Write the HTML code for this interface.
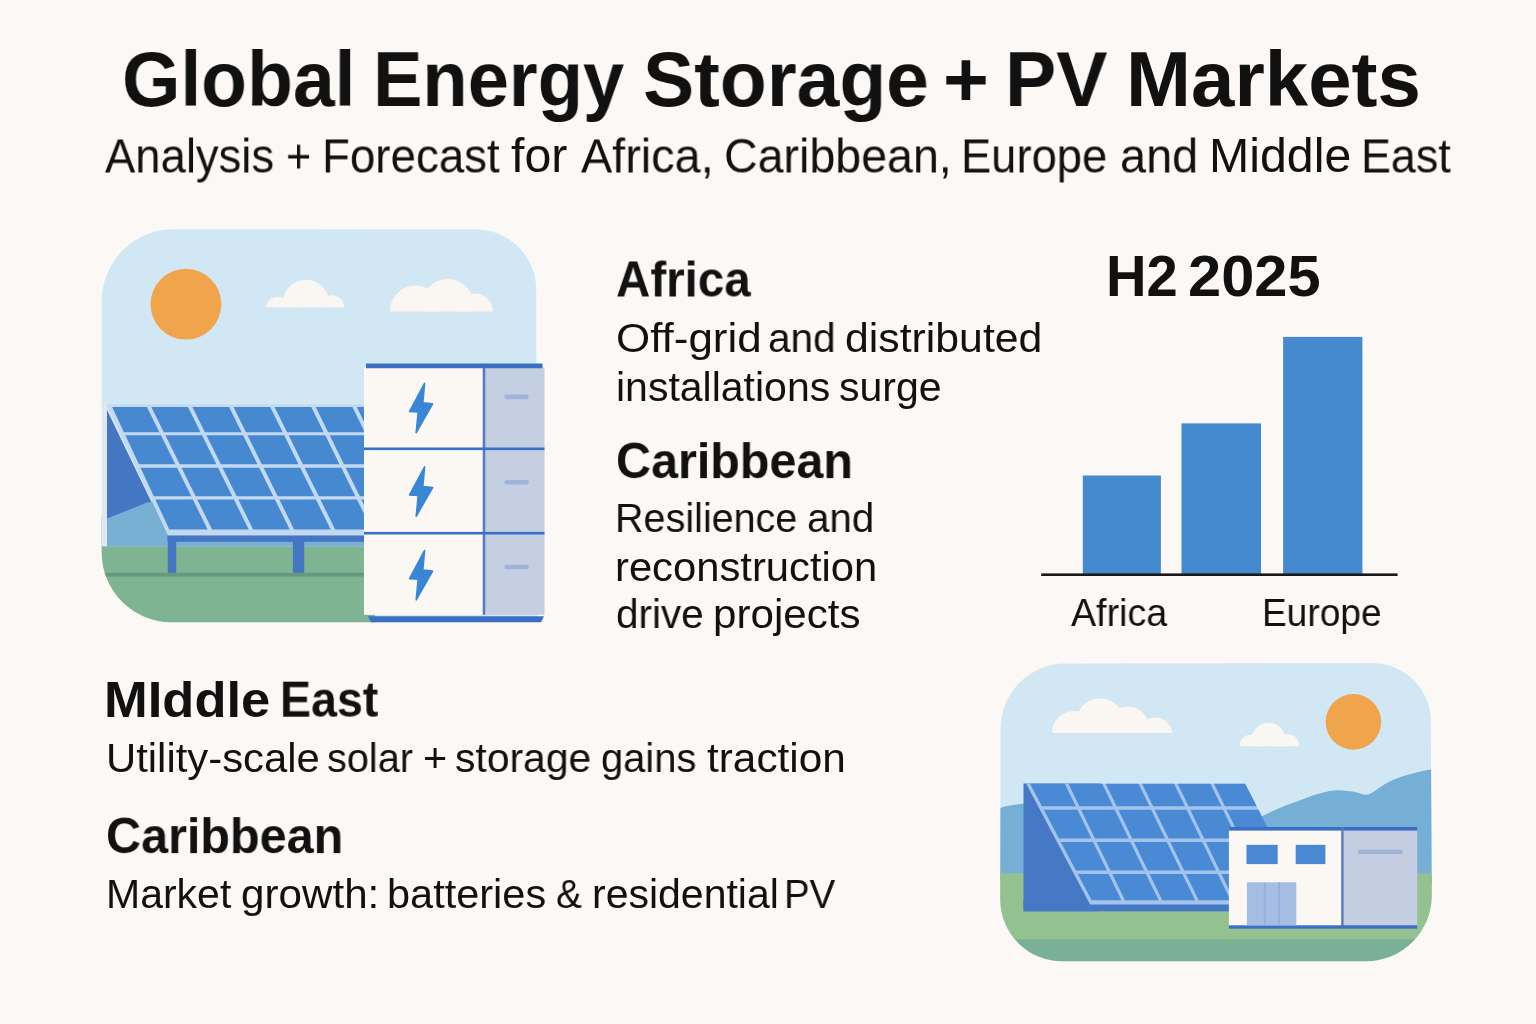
<!DOCTYPE html>
<html><head><meta charset="utf-8"><title>Global Energy Storage + PV Markets</title>
<style>
html,body{margin:0;padding:0;}
body{width:1536px;height:1024px;overflow:hidden;background:#fbf8f5;position:relative;font-family:"Liberation Sans",sans-serif;color:#111111;}
.t{position:absolute;white-space:nowrap;line-height:1;transform-origin:0 0;will-change:transform;}
svg{position:absolute;left:0;top:0;}
</style></head><body>
<svg width="1536" height="1024" viewBox="0 0 1536 1024">
<clipPath id="c1"><path d="M101.7,301.2 A72,72 0 0 1 173.7,229.2 L476,229.6 A60,60 0 0 1 536.2,290 L537.2,622.3 L171.7,622.3 A70,70 0 0 1 101.7,552.3 Z"/></clipPath>
<g clip-path="url(#c1)"><rect x="95.0" y="225.0" width="460.0" height="400.0" fill="#d1e7f4"/><circle cx="185.9" cy="304.2" r="35.4" fill="#f0a44b"/><clipPath id="cl1"><rect x="261.7" y="274.8" width="87.4" height="32.4"/></clipPath><g clip-path="url(#cl1)" fill="#faf6f1"><circle cx="306.0" cy="303.0" r="23.2"/><circle cx="277.7" cy="309.1" r="12.3"/><circle cx="332.0" cy="307.2" r="12.0"/><circle cx="300.0" cy="309.0" r="8.0"/></g><clipPath id="cl2"><rect x="384.0" y="273.9" width="114.0" height="37.6"/></clipPath><g clip-path="url(#cl2)" fill="#faf6f1"><circle cx="415.5" cy="311.0" r="25.5"/><circle cx="447.6" cy="305.3" r="26.4"/><circle cx="475.0" cy="311.5" r="18.0"/></g><polygon points="95.0,520.0 147.0,502.8 370.0,470.0 370.0,546.4 95.0,546.4" fill="#78b0d4"/><rect x="101.8" y="404.0" width="5.2" height="146.0" fill="#dfe8f0"/><polygon points="107.0,410.0 151.5,502.3 146.9,502.8 107.0,518.4" fill="#4576c4"/><polygon points="106.5,404.4 380.0,404.4 380.0,535.6 168.0,535.6" fill="#c3d9f0"/><polygon points="112.2,406.9 146.9,406.9 159.4,432.2 123.9,432.2" fill="#4689d1"/><polygon points="151.3,406.9 188.0,406.9 200.5,432.2 163.8,432.2" fill="#4689d1"/><polygon points="192.4,406.9 229.1,406.9 241.6,432.2 204.9,432.2" fill="#4689d1"/><polygon points="233.5,406.9 270.2,406.9 282.7,432.2 246.0,432.2" fill="#4689d1"/><polygon points="274.6,406.9 311.3,406.9 323.7,432.2 287.1,432.2" fill="#4689d1"/><polygon points="315.7,406.9 352.4,406.9 364.8,432.2 328.1,432.2" fill="#4689d1"/><polygon points="356.8,406.9 393.5,406.9 405.9,432.2 369.2,432.2" fill="#4689d1"/><polygon points="125.4,435.3 161.0,435.3 175.3,464.2 138.9,464.2" fill="#4689d1"/><polygon points="165.4,435.3 202.0,435.3 216.4,464.2 179.7,464.2" fill="#4689d1"/><polygon points="206.4,435.3 243.1,435.3 257.4,464.2 220.8,464.2" fill="#4689d1"/><polygon points="247.5,435.3 284.2,435.3 298.5,464.2 261.8,464.2" fill="#4689d1"/><polygon points="288.6,435.3 325.3,435.3 339.5,464.2 302.9,464.2" fill="#4689d1"/><polygon points="329.7,435.3 366.4,435.3 380.6,464.2 343.9,464.2" fill="#4689d1"/><polygon points="370.8,435.3 407.4,435.3 421.7,464.2 385.0,464.2" fill="#4689d1"/><polygon points="140.5,467.7 177.1,467.7 191.3,496.3 153.8,496.3" fill="#4689d1"/><polygon points="181.5,467.7 218.1,467.7 232.3,496.3 195.7,496.3" fill="#4689d1"/><polygon points="222.5,467.7 259.2,467.7 273.3,496.3 236.7,496.3" fill="#4689d1"/><polygon points="263.6,467.7 300.2,467.7 314.4,496.3 277.7,496.3" fill="#4689d1"/><polygon points="304.6,467.7 341.3,467.7 355.4,496.3 318.8,496.3" fill="#4689d1"/><polygon points="345.7,467.7 382.3,467.7 396.4,496.3 359.8,496.3" fill="#4689d1"/><polygon points="386.7,467.7 423.4,467.7 437.5,496.3 400.8,496.3" fill="#4689d1"/><polygon points="155.3,499.4 192.8,499.4 207.7,529.4 169.3,529.4" fill="#4689d1"/><polygon points="197.2,499.4 233.9,499.4 248.7,529.4 212.1,529.4" fill="#4689d1"/><polygon points="238.3,499.4 274.9,499.4 289.7,529.4 253.1,529.4" fill="#4689d1"/><polygon points="279.3,499.4 315.9,499.4 330.7,529.4 294.1,529.4" fill="#4689d1"/><polygon points="320.3,499.4 356.9,499.4 371.7,529.4 335.1,529.4" fill="#4689d1"/><polygon points="361.3,499.4 398.0,499.4 412.7,529.4 376.1,529.4" fill="#4689d1"/><polygon points="402.4,499.4 439.0,499.4 453.7,529.4 417.1,529.4" fill="#4689d1"/><rect x="95.0" y="546.4" width="280.0" height="80.0" fill="#7fb493"/><rect x="95.0" y="572.8" width="280.0" height="3.7" fill="#65987e"/><rect x="167.4" y="535.6" width="200.0" height="6.2" fill="#4576c4"/><rect x="167.8" y="541.0" width="8.4" height="31.8" fill="#4576c4"/><rect x="292.9" y="541.0" width="11.3" height="31.8" fill="#4576c4"/></g>
<rect x="364.0" y="367.5" width="120.0" height="247.3" fill="#fbf8f4"/><rect x="484.0" y="367.5" width="60.5" height="247.3" fill="#c4cfe2"/><polygon points="366.0,363.4 542.5,363.4 542.5,368.2 366.0,368.2" fill="#3b6fc3"/><rect x="482.7" y="367.5" width="2.6" height="247.3" fill="#5a7bc2"/><rect x="364.0" y="447.5" width="180.5" height="2.6" fill="#3b6fc3"/><rect x="364.0" y="531.9" width="180.5" height="2.6" fill="#3b6fc3"/><polygon points="368.0,616.2 544.0,616.2 541.0,622.2 371.0,622.2" fill="#3b6fc3"/><rect x="504.3" y="394.6" width="24.6" height="4.6" rx="2.3" fill="#9fb4d8"/><rect x="504.3" y="479.9" width="24.6" height="4.6" rx="2.3" fill="#9fb4d8"/><rect x="504.3" y="564.7" width="24.6" height="4.6" rx="2.3" fill="#9fb4d8"/><polygon points="424.6,383.3 409.6,411.4 418.2,411.9 416.2,432.7 432.6,403.9 422.8,402.9" fill="#3a86d6" stroke="#3a86d6" stroke-width="1.6" stroke-linejoin="round"/><polygon points="424.6,466.9 409.6,495.0 418.2,495.5 416.2,516.3 432.6,487.5 422.8,486.5" fill="#3a86d6" stroke="#3a86d6" stroke-width="1.6" stroke-linejoin="round"/><polygon points="424.6,550.5 409.6,578.6 418.2,579.1 416.2,599.9 432.6,571.1 422.8,570.1" fill="#3a86d6" stroke="#3a86d6" stroke-width="1.6" stroke-linejoin="round"/>
<rect x="1082.8" y="475.5" width="78.1" height="98.5" fill="#4589ce"/><rect x="1181.5" y="423.4" width="79.5" height="150.6" fill="#4589ce"/><rect x="1283.1" y="336.9" width="79.3" height="237.1" fill="#4589ce"/><rect x="1041.2" y="573.4" width="356.4" height="2.6" fill="#1a1a1a"/>
<clipPath id="c2"><path d="M1000.6,728.5 A65,65 0 0 1 1065.6,663.5 L1372.8,663.3 A58,58 0 0 1 1430.8,721.3 L1431.8,895.3 A66,66 0 0 1 1365.8,961.3 L1062.2,961.3 A62,62 0 0 1 1000.2,899.3 Z"/></clipPath>
<g clip-path="url(#c2)"><rect x="995.0" y="655.0" width="445.0" height="315.0" fill="#d1e7f4"/><circle cx="1353.4" cy="721.9" r="27.8" fill="#f0a44b"/><clipPath id="cl3"><rect x="1047.0" y="693.2" width="130.0" height="39.8"/></clipPath><g clip-path="url(#cl3)" fill="#faf6f1"><circle cx="1074.0" cy="733.0" r="22.0"/><circle cx="1100.0" cy="722.0" r="23.8"/><circle cx="1128.0" cy="727.0" r="20.5"/><circle cx="1155.0" cy="735.0" r="17.5"/></g><clipPath id="cl4"><rect x="1234.5" y="717.7" width="70.0" height="28.6"/></clipPath><g clip-path="url(#cl4)" fill="#faf6f1"><circle cx="1251.0" cy="746.3" r="11.5"/><circle cx="1268.5" cy="740.0" r="17.3"/><circle cx="1287.5" cy="746.3" r="12.0"/></g><path d="M995,810 C1003,806.5 1012,804.5 1024,803.8 L1024,880 L995,880 Z" fill="#76afd5"/><path d="M1250.0,822.0 C1252.4,820.8 1259.3,817.3 1264.5,814.9 C1269.7,812.5 1275.5,809.8 1281.0,807.5 C1286.5,805.2 1291.9,803.5 1297.7,801.3 C1303.5,799.1 1309.8,796.3 1316.0,794.5 C1322.2,792.7 1328.6,790.9 1334.8,790.4 C1341.0,789.9 1347.4,790.9 1352.9,791.6 C1358.4,792.3 1362.6,795.7 1368.0,794.4 C1373.4,793.1 1380.2,786.6 1385.5,783.7 C1390.8,780.8 1395.1,779.0 1400.0,777.2 C1404.9,775.4 1409.5,774.2 1414.8,772.9 C1420.1,771.6 1427.0,770.1 1432.0,769.3 C1437.0,768.5 1442.8,749.5 1445.0,768.0 C1447.2,786.5 1477.5,861.3 1445.0,880.0 C1412.5,898.7 1282.5,880.0 1250.0,880.0 Z" fill="#76afd5"/><rect x="995.0" y="873.3" width="445.0" height="67.0" fill="#93c190"/><rect x="995.0" y="939.3" width="445.0" height="31.0" fill="#79b096"/><polygon points="1023.5,783.5 1100.0,783.5 1100.0,911.3 1023.5,911.3" fill="#4679c5"/><rect x="1023.5" y="900.0" width="210.0" height="11.3" fill="#4679c5"/><polygon points="1026.2,783.7 1245.2,783.7 1306.8,904.5 1090.1,904.5" fill="#a2c4ec"/><polygon points="1030.0,783.7 1064.8,783.7 1075.8,806.3 1042.0,806.3" fill="#4a89d4"/><polygon points="1068.4,783.7 1102.1,783.7 1113.1,806.3 1079.4,806.3" fill="#4a89d4"/><polygon points="1105.7,783.7 1138.5,783.7 1149.5,806.3 1116.7,806.3" fill="#4a89d4"/><polygon points="1142.1,783.7 1174.0,783.7 1185.0,806.3 1153.1,806.3" fill="#4a89d4"/><polygon points="1177.6,783.7 1210.4,783.7 1221.4,806.3 1188.6,806.3" fill="#4a89d4"/><polygon points="1214.0,783.7 1245.2,783.7 1256.7,806.3 1225.0,806.3" fill="#4a89d4"/><polygon points="1043.8,809.7 1077.4,809.7 1091.4,838.5 1059.0,838.5" fill="#4a89d4"/><polygon points="1081.0,809.7 1114.7,809.7 1128.7,838.5 1095.0,838.5" fill="#4a89d4"/><polygon points="1118.3,809.7 1151.1,809.7 1165.1,838.5 1132.3,838.5" fill="#4a89d4"/><polygon points="1154.7,809.7 1186.6,809.7 1200.6,838.5 1168.7,838.5" fill="#4a89d4"/><polygon points="1190.2,809.7 1223.0,809.7 1237.0,838.5 1204.2,838.5" fill="#4a89d4"/><polygon points="1226.6,809.7 1258.5,809.7 1273.1,838.5 1240.6,838.5" fill="#4a89d4"/><polygon points="1060.8,841.9 1093.0,841.9 1106.9,870.6 1076.0,870.6" fill="#4a89d4"/><polygon points="1096.6,841.9 1130.3,841.9 1144.2,870.6 1110.5,870.6" fill="#4a89d4"/><polygon points="1133.9,841.9 1166.7,841.9 1180.6,870.6 1147.8,870.6" fill="#4a89d4"/><polygon points="1170.3,841.9 1202.2,841.9 1216.1,870.6 1184.2,870.6" fill="#4a89d4"/><polygon points="1205.8,841.9 1238.6,841.9 1252.5,870.6 1219.7,870.6" fill="#4a89d4"/><polygon points="1242.2,841.9 1274.9,841.9 1289.5,870.6 1256.1,870.6" fill="#4a89d4"/><polygon points="1077.8,874.0 1108.6,874.0 1121.4,900.3 1091.7,900.3" fill="#4a89d4"/><polygon points="1112.2,874.0 1145.9,874.0 1158.7,900.3 1125.0,900.3" fill="#4a89d4"/><polygon points="1149.5,874.0 1182.3,874.0 1195.1,900.3 1162.3,900.3" fill="#4a89d4"/><polygon points="1185.9,874.0 1217.8,874.0 1230.6,900.3 1198.7,900.3" fill="#4a89d4"/><polygon points="1221.4,874.0 1254.2,874.0 1267.0,900.3 1234.2,900.3" fill="#4a89d4"/><polygon points="1257.8,874.0 1291.3,874.0 1304.7,900.3 1270.6,900.3" fill="#4a89d4"/><rect x="1228.9" y="827.0" width="113.5" height="99.0" fill="#fbf8f4"/><rect x="1342.4" y="827.0" width="74.8" height="99.0" fill="#c5cde3"/><rect x="1228.9" y="827.0" width="188.3" height="3.6" fill="#3b6fc3"/><rect x="1341.2" y="827.0" width="2.4" height="99.0" fill="#5a7bc2"/><rect x="1228.9" y="925.3" width="188.3" height="3.4" fill="#3b6fc3"/><rect x="1246.5" y="844.8" width="31.2" height="19.3" fill="#4a88d4"/><rect x="1295.7" y="844.8" width="29.7" height="19.3" fill="#4a88d4"/><rect x="1246.9" y="882.3" width="49.4" height="43.0" fill="#a5bde3"/><rect x="1263.8" y="882.3" width="1.6" height="43.0" fill="#93aedd"/><rect x="1278.4" y="882.3" width="1.6" height="43.0" fill="#93aedd"/><rect x="1357.8" y="849.7" width="45.2" height="4.3" rx="2" fill="#9fb2d6"/></g>
</svg>
<div class="t" style="left:121.80px;top:39.57px;font-size:78.00px;font-weight:700;transform:scaleX(0.9619)">Global</div>
<div class="t" style="left:373.47px;top:39.57px;font-size:78.00px;font-weight:700;transform:scaleX(0.9496)">Energy</div>
<div class="t" style="left:642.94px;top:39.57px;font-size:78.00px;font-weight:700;transform:scaleX(0.9844)">Storage</div>
<div class="t" style="left:943.49px;top:39.57px;font-size:78.00px;font-weight:700;transform:scaleX(1.0054)">+</div>
<div class="t" style="left:1004.68px;top:39.57px;font-size:78.00px;font-weight:700;transform:scaleX(0.9849)">PV</div>
<div class="t" style="left:1126.02px;top:39.57px;font-size:78.00px;font-weight:700;transform:scaleX(1.0004)">Markets</div>
<div class="t" style="left:104.80px;top:131.51px;font-size:47.00px;font-weight:400;transform-origin:0 40.39px;transform:scale(0.9666,1.0350)">Analysis</div>
<div class="t" style="left:286.12px;top:131.51px;font-size:47.00px;font-weight:400;transform-origin:0 40.39px;transform:scale(0.9171,1.0350)">+</div>
<div class="t" style="left:322.01px;top:131.51px;font-size:47.00px;font-weight:400;transform-origin:0 40.39px;transform:scale(0.9718,1.0350)">Forecast</div>
<div class="t" style="left:511.33px;top:131.51px;font-size:47.00px;font-weight:400;transform-origin:0 40.39px;transform:scale(1.0272,1.0350)">for</div>
<div class="t" style="left:581.39px;top:131.51px;font-size:47.00px;font-weight:400;transform-origin:0 40.39px;transform:scale(0.9955,1.0350)">Africa,</div>
<div class="t" style="left:723.97px;top:131.51px;font-size:47.00px;font-weight:400;transform-origin:0 40.39px;transform:scale(0.9907,1.0350)">Caribbean,</div>
<div class="t" style="left:961.05px;top:131.51px;font-size:47.00px;font-weight:400;transform-origin:0 40.39px;transform:scale(0.9644,1.0350)">Europe</div>
<div class="t" style="left:1119.95px;top:131.51px;font-size:47.00px;font-weight:400;transform-origin:0 40.39px;transform:scale(0.9967,1.0350)">and</div>
<div class="t" style="left:1208.57px;top:131.51px;font-size:47.00px;font-weight:400;transform-origin:0 40.39px;transform:scale(1.0275,1.0350)">Middle</div>
<div class="t" style="left:1361.49px;top:131.51px;font-size:47.00px;font-weight:400;transform-origin:0 40.39px;transform:scale(0.9545,1.0350)">East</div>
<div class="t" style="left:616.03px;top:255.22px;font-size:49.00px;font-weight:700;transform-origin:0 40.88px;transform:scale(0.9689,1.0350)">Africa</div>
<div class="t" style="left:615.91px;top:317.89px;font-size:41.00px;font-weight:400;transform:scaleX(1.0713)">Off-grid</div>
<div class="t" style="left:768.27px;top:317.89px;font-size:41.00px;font-weight:400;transform:scaleX(0.9897)">and</div>
<div class="t" style="left:844.77px;top:317.89px;font-size:41.00px;font-weight:400;transform:scaleX(1.0433)">distributed</div>
<div class="t" style="left:615.59px;top:366.89px;font-size:41.00px;font-weight:400;transform:scaleX(0.9984)">installations</div>
<div class="t" style="left:838.98px;top:366.89px;font-size:41.00px;font-weight:400;transform:scaleX(1.0002)">surge</div>
<div class="t" style="left:616.02px;top:436.72px;font-size:49.00px;font-weight:700;transform-origin:0 40.88px;transform:scale(0.9885,1.0200)">Caribbean</div>
<div class="t" style="left:614.80px;top:497.79px;font-size:41.00px;font-weight:400;transform:scaleX(0.9641)">Resilience</div>
<div class="t" style="left:806.96px;top:497.79px;font-size:41.00px;font-weight:400;transform:scaleX(0.9842)">and</div>
<div class="t" style="left:614.95px;top:546.89px;font-size:41.00px;font-weight:400;transform:scaleX(1.0183)">reconstruction</div>
<div class="t" style="left:615.83px;top:594.29px;font-size:41.00px;font-weight:400;transform:scaleX(0.9871)">drive</div>
<div class="t" style="left:712.71px;top:594.29px;font-size:41.00px;font-weight:400;transform:scaleX(1.0274)">projects</div>
<div class="t" style="left:1106.26px;top:248.70px;font-size:56.00px;font-weight:700;transform-origin:0 46.60px;transform:scale(1.0027,1.0350)">H2</div>
<div class="t" style="left:1188.29px;top:248.70px;font-size:56.00px;font-weight:700;transform-origin:0 46.60px;transform:scale(1.0645,1.0350)">2025</div>
<div class="t" style="left:1071.00px;top:594.23px;font-size:38.00px;font-weight:400;transform:scaleX(0.9908)">Africa</div>
<div class="t" style="left:1262.09px;top:594.33px;font-size:38.00px;font-weight:400;transform:scaleX(0.9755)">Europe</div>
<div class="t" style="left:103.59px;top:675.82px;font-size:49.00px;font-weight:700;transform-origin:0 41.08px;transform:scale(1.0715,1.0300)">MIddle</div>
<div class="t" style="left:280.21px;top:675.82px;font-size:49.00px;font-weight:700;transform-origin:0 41.08px;transform:scale(0.9487,1.0300)">East</div>
<div class="t" style="left:105.69px;top:738.49px;font-size:41.00px;font-weight:400;transform:scaleX(1.0200)">Utility-scale</div>
<div class="t" style="left:327.25px;top:738.49px;font-size:41.00px;font-weight:400;transform:scaleX(0.9673)">solar</div>
<div class="t" style="left:423.15px;top:738.49px;font-size:41.00px;font-weight:400;transform:scaleX(1.0093)">+</div>
<div class="t" style="left:454.98px;top:738.49px;font-size:41.00px;font-weight:400;transform:scaleX(0.9957)">storage</div>
<div class="t" style="left:601.03px;top:738.49px;font-size:41.00px;font-weight:400;transform:scaleX(0.9733)">gains</div>
<div class="t" style="left:706.58px;top:738.49px;font-size:41.00px;font-weight:400;transform:scaleX(1.0326)">traction</div>
<div class="t" style="left:106.02px;top:811.82px;font-size:49.00px;font-weight:700;transform-origin:0 41.08px;transform:scale(0.9898,1.0200)">Caribbean</div>
<div class="t" style="left:105.75px;top:873.89px;font-size:41.00px;font-weight:400;transform:scaleX(0.9985)">Market</div>
<div class="t" style="left:240.91px;top:873.89px;font-size:41.00px;font-weight:400;transform:scaleX(1.0288)">growth:</div>
<div class="t" style="left:386.90px;top:873.89px;font-size:41.00px;font-weight:400;transform:scaleX(1.0122)">batteries</div>
<div class="t" style="left:556.48px;top:873.89px;font-size:41.00px;font-weight:400;transform:scaleX(0.9484)">&amp;</div>
<div class="t" style="left:591.95px;top:873.89px;font-size:41.00px;font-weight:400;transform:scaleX(0.9984)">residential</div>
<div class="t" style="left:784.36px;top:873.89px;font-size:41.00px;font-weight:400;transform:scaleX(0.9375)">PV</div>
</body></html>
